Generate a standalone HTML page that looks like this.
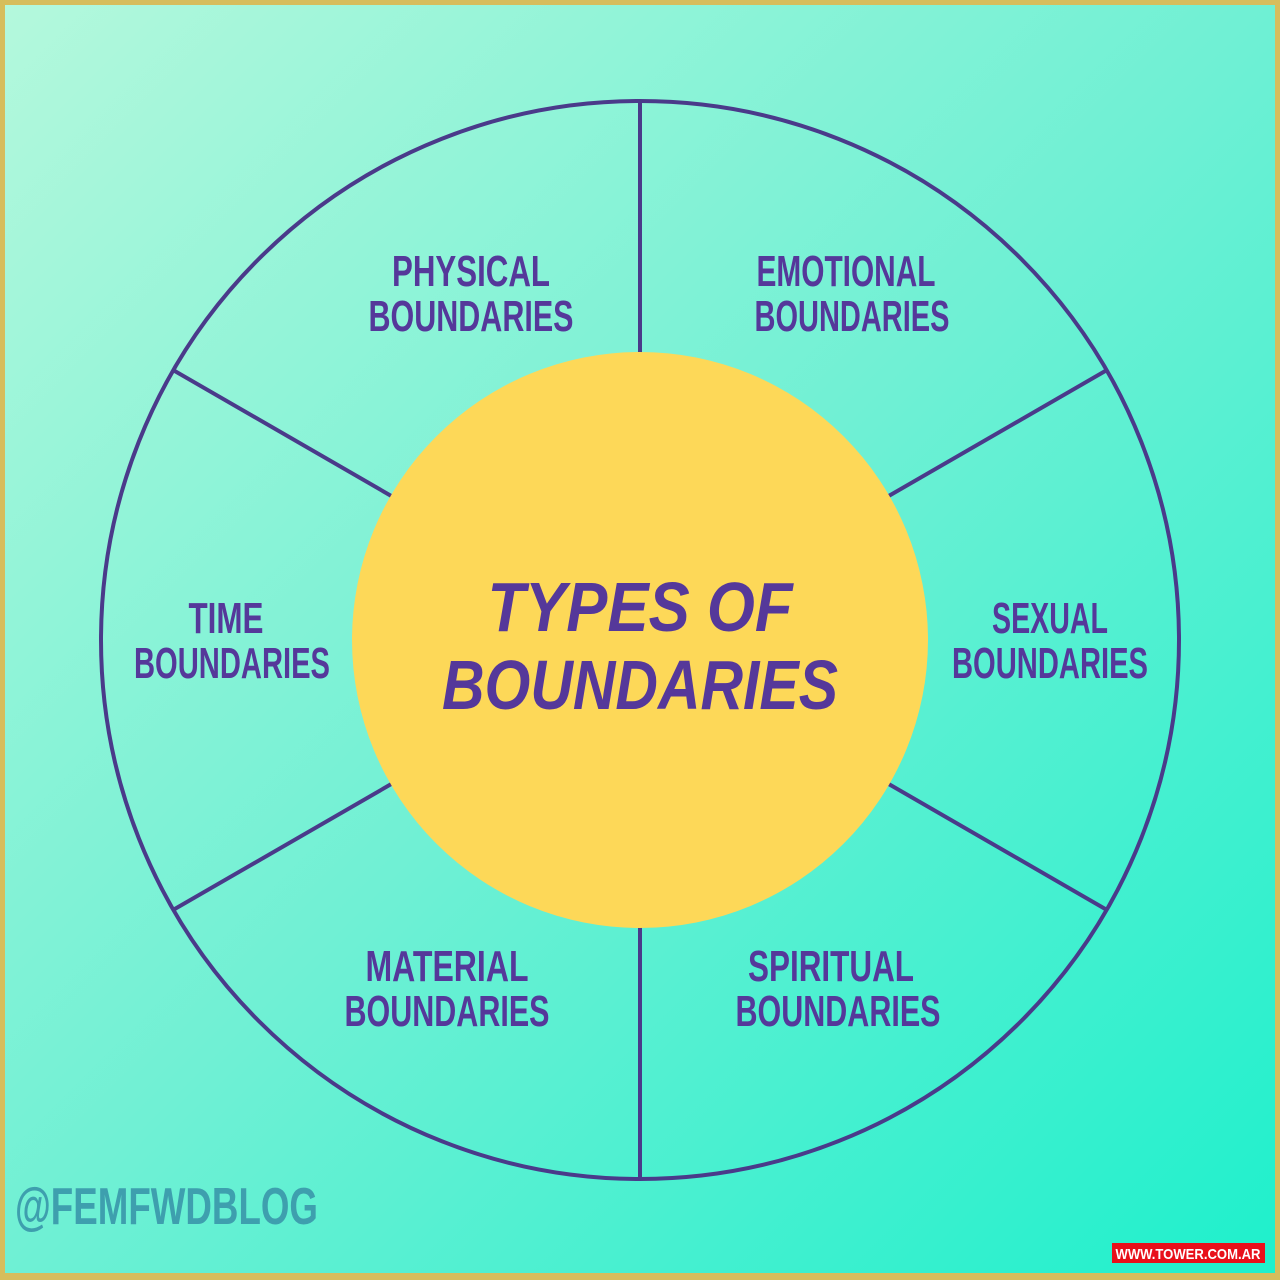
<!DOCTYPE html>
<html><head><meta charset="utf-8"><style>
html,body{margin:0;padding:0;width:1280px;height:1280px;overflow:hidden}
svg{display:block}
text{font-family:"Liberation Sans",sans-serif;font-weight:bold}
</style></head><body>
<svg width="1280" height="1280" viewBox="0 0 1280 1280" xmlns="http://www.w3.org/2000/svg">
<defs>
<linearGradient id="bg" x1="0" y1="0" x2="1" y2="1">
<stop offset="0" stop-color="#b4f8dc"/>
<stop offset="0.5" stop-color="#6ff0d4"/>
<stop offset="1" stop-color="#1ef0cc"/>
</linearGradient>
</defs>
<rect x="0" y="0" width="1280" height="1280" fill="#d6bd5c"/>
<rect x="5" y="5" width="1270" height="1268" fill="url(#bg)"/>
<g stroke="#4a3a8a" stroke-width="4" fill="none">
<circle cx="640" cy="640" r="539"/>
<line x1="640" y1="100" x2="640" y2="360"/>
<line x1="640" y1="920" x2="640" y2="1179"/>
<line x1="173" y1="370" x2="400" y2="501"/>
<line x1="1107" y1="370" x2="880" y2="501"/>
<line x1="173" y1="910" x2="400" y2="779"/>
<line x1="1107" y1="910" x2="880" y2="779"/>
</g>
<circle cx="640" cy="640" r="288" fill="#fdd858"/>
<g fill="#55389a" font-size="44" text-anchor="middle">
<text x="471" y="286" textLength="158" lengthAdjust="spacingAndGlyphs">PHYSICAL</text>
<text x="471" y="331" textLength="205" lengthAdjust="spacingAndGlyphs">BOUNDARIES</text>
<text x="846" y="286" textLength="179" lengthAdjust="spacingAndGlyphs">EMOTIONAL</text>
<text x="852" y="331" textLength="195" lengthAdjust="spacingAndGlyphs">BOUNDARIES</text>
<text x="226" y="633" textLength="75" lengthAdjust="spacingAndGlyphs">TIME</text>
<text x="232" y="678" textLength="196" lengthAdjust="spacingAndGlyphs">BOUNDARIES</text>
<text x="1050" y="633" textLength="116" lengthAdjust="spacingAndGlyphs">SEXUAL</text>
<text x="1050" y="678" textLength="196" lengthAdjust="spacingAndGlyphs">BOUNDARIES</text>
<text x="447" y="981" textLength="163" lengthAdjust="spacingAndGlyphs">MATERIAL</text>
<text x="447" y="1026" textLength="205" lengthAdjust="spacingAndGlyphs">BOUNDARIES</text>
<text x="831" y="981" textLength="166" lengthAdjust="spacingAndGlyphs">SPIRITUAL</text>
<text x="838" y="1026" textLength="205" lengthAdjust="spacingAndGlyphs">BOUNDARIES</text>
</g>
<g fill="#55389a" font-size="70" text-anchor="middle" font-style="italic">
<text x="640" y="631" textLength="305" lengthAdjust="spacingAndGlyphs">TYPES OF</text>
<text x="640" y="709" textLength="396" lengthAdjust="spacingAndGlyphs">BOUNDARIES</text>
</g>
<text x="15" y="1224" font-size="52" fill="#3e9fae" textLength="303" lengthAdjust="spacingAndGlyphs">@FEMFWDBLOG</text>
<rect x="1112" y="1243" width="153" height="20" fill="#e8101a"/>
<text x="1188" y="1259" font-size="15" fill="#ffffff" text-anchor="middle" textLength="145" lengthAdjust="spacingAndGlyphs" font-family="Liberation Mono, monospace">WWW.TOWER.COM.AR</text>
</svg>
</body></html>
